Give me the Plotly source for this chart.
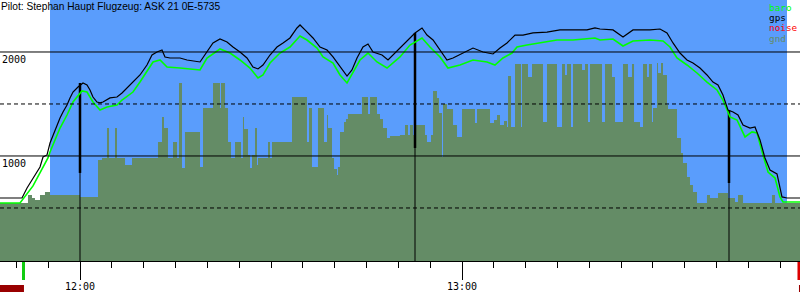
import pandas as pd
import plotly.graph_objects as go

BASE = pd.Timestamp("2000-01-01 12:00:00")

title_text = "Pilot: Stephan Haupt Flugzeug: ASK 21 0E-5735"
legend_names = ["baro", "gps", "noise", "gnd"]

# x values: minutes after 12:00 ; y values: altitude in metres
gps_min = [-12.57, -9.42, -9.11, -8.32, -7.38, -6.28, -5.81, -5.18, -4.71, -4.24, -3.61, -3.14, -2.67, -2.04,
           -1.57, -1.10, -0.31, 0.47, 1.10, 1.57, 2.04, 2.67, 3.14, 3.61, 4.71, 5.81, 6.60, 7.38, 8.32, 9.42,
           10.52, 11.31, 12.09, 12.88, 13.35, 14.14, 15.71, 16.81, 18.85, 19.95, 20.89, 21.99, 23.09, 24.03,
           25.13, 26.23, 27.17, 27.96, 28.74, 29.84, 30.94, 31.89, 32.98, 34.08, 34.56, 35.34, 36.60, 37.70,
           38.80, 39.74, 40.84, 41.94, 42.72, 43.51, 44.45, 45.24, 46.02, 47.44, 48.38, 49.16, 50.26, 51.36,
           52.62, 53.72, 54.50, 55.45, 56.55, 57.64, 58.59, 60.16, 61.73, 63.30, 64.87, 65.97, 67.07, 68.33,
           69.58, 71.15, 73.35, 75.39, 77.44, 79.63, 80.89, 81.68, 83.72, 85.29, 86.86, 89.53, 91.10, 92.20,
           93.14, 94.24, 95.34, 96.28, 97.38, 98.48, 99.42, 100.21, 100.99, 101.78, 102.57, 103.35, 104.14,
           105.24, 106.02, 106.81, 107.59, 108.38, 109.48, 110.26, 111.05, 113.09]
gps_alt = [596, 596, 596, 692, 788, 894, 990, 1010, 1125, 1202, 1298, 1365, 1423, 1490,
           1558, 1615, 1663, 1702, 1683, 1635, 1567, 1519, 1510, 1519, 1558, 1567, 1606, 1654, 1702, 1779,
           1875, 1971, 2000, 2019, 1952, 1942, 1942, 1923, 1904, 2000, 2087, 2125, 2096, 2048,
           2000, 1942, 1856, 1837, 1875, 1971, 2048, 2087, 2135, 2231, 2260, 2212, 2135, 2048,
           2019, 1952, 1856, 1769, 1827, 1942, 2048, 2077, 2000, 1971, 1923, 1971, 2038, 2115,
           2183, 2231, 2163, 2115, 2019, 1923, 1942, 1990, 2038, 2000, 1981, 2038, 2087, 2163,
           2163, 2183, 2192, 2212, 2212, 2212, 2231, 2221, 2212, 2144, 2212, 2212, 2221, 2183,
           2087, 1990, 1923, 1894, 1846, 1779, 1711, 1683, 1587, 1442, 1423, 1394, 1298,
           1269, 1279, 1154, 981, 865, 827, 606, 596, 596]

baro_min = [-12.57, -9.42, -7.38, -5.03, -4.71, -3.14, -2.04, -1.10, 0.31, 1.10, 2.04, 3.14, 4.24, 5.81,
            6.60, 8.32, 9.42, 10.52, 11.47, 12.57, 13.67, 15.71, 18.85, 19.95, 21.99, 23.56, 25.13, 26.70,
            27.96, 28.74, 29.84, 31.41, 32.98, 34.56, 35.65, 37.23, 38.17, 39.74, 40.84, 41.94, 42.88,
            43.98, 45.24, 46.65, 48.22, 49.16, 50.26, 51.83, 53.72, 54.97, 56.55, 57.80, 59.69, 61.73,
            63.93, 65.18, 66.44, 67.85, 68.64, 70.21, 72.25, 74.92, 77.44, 79.63, 80.89, 81.68, 83.72,
            85.29, 86.86, 89.53, 91.57, 92.67, 93.77, 95.34, 96.91, 98.48, 100.05, 100.99, 102.10,
            103.20, 104.45, 105.55, 106.34, 107.28, 108.07, 109.17, 109.95, 110.42, 113.09]
baro_alt = [548, 548, 712, 981, 1038, 1269, 1394, 1519, 1625, 1615, 1519, 1442, 1471, 1490,
            1538, 1615, 1711, 1808, 1904, 1923, 1856, 1846, 1827, 1942, 2029, 1990, 1923, 1846,
            1750, 1779, 1894, 1990, 2048, 2154, 2115, 2038, 1952, 1894, 1779, 1702, 1798,
            1923, 1990, 1904, 1846, 1894, 1952, 2067, 2135, 2048, 1952, 1846, 1875, 1923,
            1904, 1875, 1942, 1990, 2048, 2067, 2087, 2115, 2115, 2125, 2135, 2115, 2125,
            2058, 2106, 2115, 2106, 2048, 1942, 1875, 1798, 1711, 1635, 1538, 1375,
            1346, 1183, 1231, 1221, 1010, 846, 788, 606, 558, 558]

gnd_min = [-12.57, -8.17, -7.54, -7.07, -6.28, -5.50, -4.71, 0.00, 2.83, 3.46, 4.24, 4.56, 5.50, 5.81,
           7.07, 8.17, 12.25, 12.88, 13.19, 13.82, 14.61, 15.24, 15.55, 16.02, 16.49, 18.85, 19.32,
           20.89, 21.99, 22.15, 22.78, 23.25, 23.72, 24.35, 25.29, 25.60, 25.76, 26.39, 26.70, 27.02,
           27.49, 27.80, 27.96, 29.53, 29.84, 30.16, 33.30, 35.65, 35.97, 36.44, 37.38, 38.33, 38.80,
           38.95, 39.58, 39.90, 40.37, 40.52, 40.84, 41.47, 41.78, 42.09, 44.29, 45.24, 45.55, 46.65,
           47.12, 47.59, 48.22, 48.69, 50.26, 51.05, 51.52, 51.83, 52.30, 52.62, 54.19, 54.50, 55.13,
           55.45, 56.07, 56.39, 56.86, 57.02, 57.64, 58.59, 59.22, 60.00, 62.04, 62.36, 64.40, 65.03,
           65.50, 65.97, 66.60, 67.07, 67.23, 67.70, 68.33, 69.27, 69.42, 70.37, 71.00, 72.72, 73.35,
           74.92, 75.71, 76.18, 76.49, 77.12, 77.44, 78.85, 79.32, 79.79, 80.11, 81.99, 82.46, 83.56,
           84.03, 85.29, 86.07, 86.70, 87.02, 87.96, 88.43, 89.06, 89.37, 89.84, 90.00, 90.63, 90.78,
           91.26, 91.57, 92.20, 92.36, 93.77, 94.40, 94.71, 95.34, 95.81, 96.28, 96.91, 98.48, 98.95,
           100.21, 101.78, 102.88, 103.35, 104.14, 108.69, 109.17, 113.09]
gnd_alt = [548, 625, 596, 577, 625, 654, 625, 606, 962, 981, 1269, 981, 1269, 981,
           913, 981, 1135, 1375, 1269, 981, 1135, 981, 1702, 885, 1231, 894, 1462,
           1702, 1462, 1702, 1462, 1135, 981, 1135, 981, 1375, 1260, 1010, 885, 1010,
           1269, 913, 981, 1135, 981, 1135, 1567, 1135, 1462, 894, 1462, 1135, 1394,
           1269, 981, 875, 817, 894, 1231, 1327, 1356, 1404, 1567, 1404, 1567, 1404,
           1356, 1269, 1173, 1192, 1202, 1298, 1202, 1298, 1202, 1298, 1202, 1135, 1202,
           1625, 1558, 1413, 990, 1500, 1452, 1298, 1183, 1452, 1317, 1452, 1317, 1346,
           1394, 1298, 1337, 1279, 1769, 1279, 1885, 1279, 1885, 1760, 1885, 1327, 1885,
           1279, 1885, 1779, 1885, 1279, 1885, 1827, 1885, 1327, 1885, 1327, 1885, 1760,
           1327, 1885, 1760, 1885, 1327, 1279, 1885, 1760, 1885, 1327, 1462, 1894, 1798,
           1894, 1779, 1490, 1452, 1173, 1029, 933, 798, 721, 654, 548, 625, 596,
           644, 596, 558, 625, 548, 625, 548, 548]

# turnpoint marks: time, top of the bold part, bottom of the bold part
mark_min = [0.0, 52.62, 101.94]
mark_top = [1702, 2183, 1442]
mark_mid = [837, 1077, 740]

sky_min = [-4.71, 111.05]
takeoff_min = -8.87
landing_min = 112.93
engine_bar_min = [-12.57, -8.80]
engine_bar2_min = [112.93, 113.09]

grid_solid = [1000, 2000]
grid_dashed = [500, 1500]
axis_labels = [1000, 2000]

X_RANGE = [-12.565, 113.09]
Y_RANGE = [-10, 2500]

SKY = "#5a9dfc"
GND = "#648c66"
BARO = "#00ff00"
MONO = "DejaVu Sans Mono"


def tt(mins):
    return [BASE + pd.Timedelta(minutes=m) for m in mins]


fig = go.Figure()

fig.add_trace(go.Scatter(x=tt([X_RANGE[0], X_RANGE[1]]), y=[Y_RANGE[0], Y_RANGE[0]], mode="lines",
                         line=dict(width=0, color=GND), hoverinfo="skip", showlegend=False))
fig.add_trace(go.Scatter(x=tt(gnd_min), y=gnd_alt, mode="lines", line=dict(width=0, color=GND, shape="hv"),
                         fill="tonexty", fillcolor=GND, hoverinfo="skip", showlegend=False))

thin_x, thin_y, thick_x, thick_y = [], [], [], []
for m, top, mid in zip(mark_min, mark_top, mark_mid):
    t = BASE + pd.Timedelta(minutes=m)
    thin_x += [t, t, None]
    thin_y += [top, Y_RANGE[0], None]
    thick_x += [t, t, None]
    thick_y += [top, mid, None]
fig.add_trace(go.Scatter(x=thin_x, y=thin_y, mode="lines", line=dict(color="black", width=1),
                         hoverinfo="skip", showlegend=False))
fig.add_trace(go.Scatter(x=thick_x, y=thick_y, mode="lines", line=dict(color="black", width=2.5),
                         hoverinfo="skip", showlegend=False))

fig.add_trace(go.Scatter(x=tt(baro_min), y=baro_alt, mode="lines", line=dict(color=BARO, width=1.6),
                         name="baro", showlegend=False))
fig.add_trace(go.Scatter(x=tt(gps_min), y=gps_alt, mode="lines", line=dict(color="black", width=1.2),
                         name="gps", showlegend=False))

shapes = []
shapes.append(dict(type="rect", xref="x", yref="paper", x0=tt([sky_min[0]])[0], x1=tt([sky_min[1]])[0],
                   y0=0, y1=1, fillcolor=SKY, line=dict(width=0), layer="below"))
for v in grid_solid:
    shapes.append(dict(type="line", xref="paper", yref="y", x0=0, x1=1, y0=v, y1=v,
                       line=dict(color="black", width=1), layer="above"))
for v in grid_dashed:
    shapes.append(dict(type="line", xref="paper", yref="y", x0=0, x1=1, y0=v, y1=v,
                       line=dict(color="black", width=1, dash="4px,3px"), layer="above"))
PH = 261.0
shapes.append(dict(type="line", xref="x", yref="paper", x0=tt([takeoff_min])[0], x1=tt([takeoff_min])[0],
                   y0=(261 - 262) / PH, y1=(261 - 280) / PH, line=dict(color="#11cc11", width=3)))
shapes.append(dict(type="line", xref="x", yref="paper", x0=tt([landing_min])[0], x1=tt([landing_min])[0],
                   y0=(261 - 262) / PH, y1=(261 - 280) / PH, line=dict(color="#dd0000", width=3)))
shapes.append(dict(type="rect", xref="x", yref="paper", x0=tt([engine_bar_min[0]])[0],
                   x1=tt([engine_bar_min[1]])[0], y0=(261 - 285) / PH, y1=(261 - 292) / PH,
                   fillcolor="#990000", line=dict(width=0)))
shapes.append(dict(type="rect", xref="x", yref="paper", x0=tt([engine_bar2_min[0]])[0],
                   x1=tt([engine_bar2_min[1]])[0], y0=(261 - 285) / PH, y1=(261 - 292) / PH,
                   fillcolor="#990000", line=dict(width=0)))

annotations = []
annotations.append(dict(text=title_text, xref="paper", yref="paper", x=0, y=1, xanchor="left", yanchor="top",
                        showarrow=False, font=dict(family="Liberation Sans, Arial", size=10.2, color="black"),
                        xshift=-1, yshift=1))
for v in axis_labels:
    annotations.append(dict(text=str(v), xref="paper", yref="y", x=0, y=v, xanchor="left", yanchor="top",
                            showarrow=False, font=dict(family=MONO, size=10, color="black"), xshift=0, yshift=0))
leg_colors = [BARO, "#000000", "#ff0000", GND]
for i, (name, col) in enumerate(zip(legend_names, leg_colors)):
    annotations.append(dict(text=name, xref="paper", yref="paper", x=769 / 800, y=1 - (7 + 10.4 * i) / PH,
                            xanchor="left", yanchor="middle", showarrow=False, borderpad=0,
                            font=dict(family=MONO, size=9.4, color=col), xshift=-1))

fig.update_layout(
    width=800, height=300,
    margin=dict(l=0, r=0, t=0, b=39, pad=0),
    paper_bgcolor="white", plot_bgcolor="white",
    showlegend=False,
    shapes=shapes, annotations=annotations,
    xaxis=dict(type="date", range=tt(X_RANGE), tickformat="%H:%M", dtick=3600000, tick0=BASE,
               ticks="outside", ticklen=18, tickcolor="black", tickwidth=1, ticklabelstandoff=-2,
               showline=True, linecolor="black", linewidth=1, showgrid=False, zeroline=False,
               tickfont=dict(family=MONO, size=10, color="black"),
               minor=dict(dtick=300000, ticklen=6, tickcolor="black", tickwidth=1, ticks="outside",
                          showgrid=False)),
    yaxis=dict(range=Y_RANGE, showticklabels=False, showgrid=False, zeroline=False, ticks="",
               showline=False, fixedrange=True),
)

fig.write_html("out.html")
